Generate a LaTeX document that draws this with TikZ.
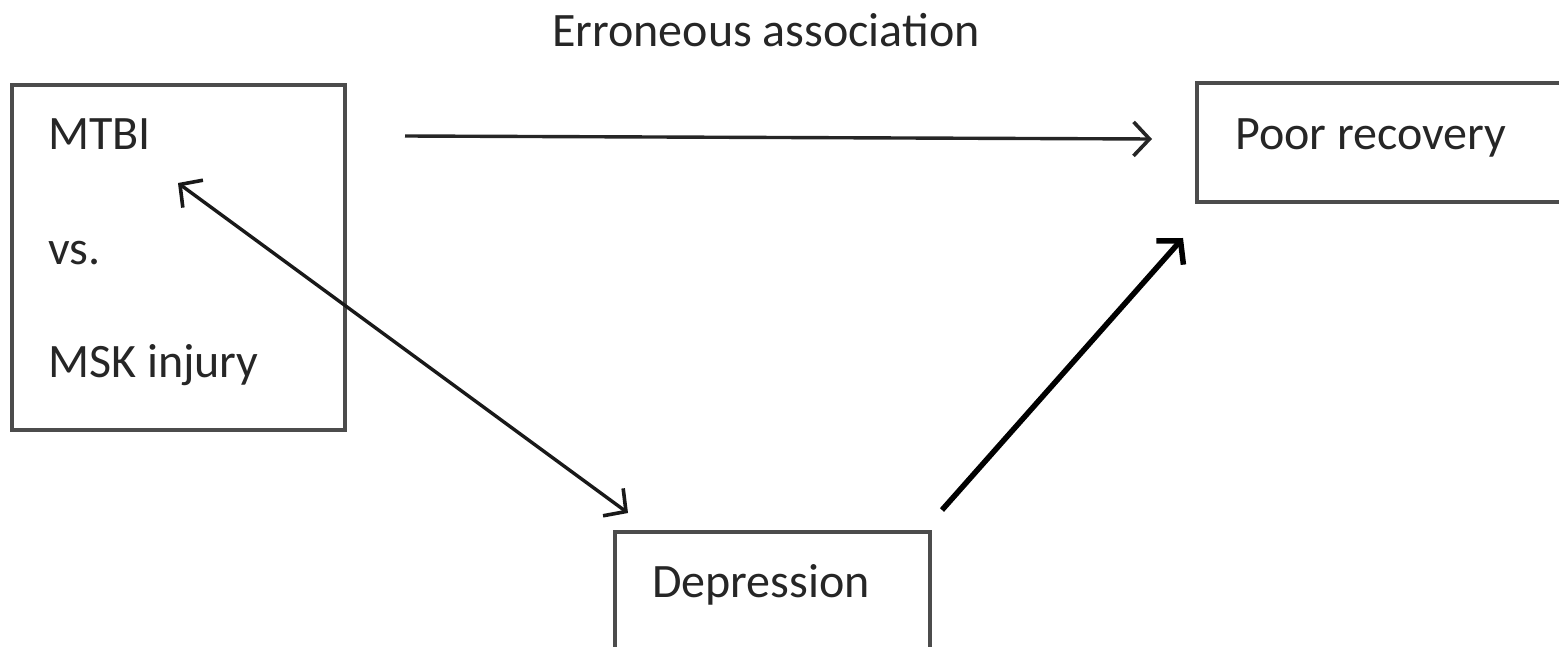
\documentclass[tikz,border=0pt]{standalone}
\usepackage{fontspec}
\setmainfont{Carlito}
\usetikzlibrary{arrows.meta}
\begin{document}
\begin{tikzpicture}[x=1pt,y=-1pt,
  box/.style={draw=black!70, line width=3.2pt, inner sep=0pt},
  lbl/.style={anchor=base west, inner sep=0pt, text=black!85, font=\fontsize{48}{58}\selectfont},
  conn/.style={line width=3.4pt, black!90, {Straight Barb[length=16pt,width=34pt,line width=3.6pt]}-{Straight Barb[length=16pt,width=34pt,line width=3.6pt]}},
  oneway/.style={line width=3.4pt, black!85, -{Straight Barb[length=16pt,width=34pt,line width=3.6pt]}},
  thick arrow/.style={line width=5.5pt, black, -{Straight Barb[length=16pt,width=36pt,line width=5.5pt]}}
]
\useasboundingbox (0,0) rectangle (1559,647);
\clip (0,0) rectangle (1559,647);

\node[box, minimum width=333pt, minimum height=345pt] (left) at (178.5,257.5) {};
\node[box, minimum width=403pt, minimum height=119pt] (poor) at (1398.5,142.5) {};
\node[box, minimum width=315pt, minimum height=168pt] (dep) at (772.5,616) {};

\node[lbl] (mtbi) at (48,150) {MTBI};
\node[lbl] (vs) at (48,265) {vs.};
\node[lbl] (msk) at (48,377) {MSK injury};
\node[lbl] (poortxt) at (1235,150) {Poor recovery};
\node[lbl] (deptxt) at (652,597) {Depression};
\node[lbl] (title) at (552,47) {Erroneous association};

\coordinate (h1) at (405,136);
\coordinate (h2) at (1152,139);
\coordinate (d1) at (178,183);
\coordinate (d2) at (628,513);
\coordinate (p1) at (942,510);
\coordinate (p2) at (1183,238);

\draw[oneway] (h1) -- (h2);
\draw[conn] (d1) -- (d2);
\draw[thick arrow] (p1) -- (p2);
\end{tikzpicture}
\end{document}
